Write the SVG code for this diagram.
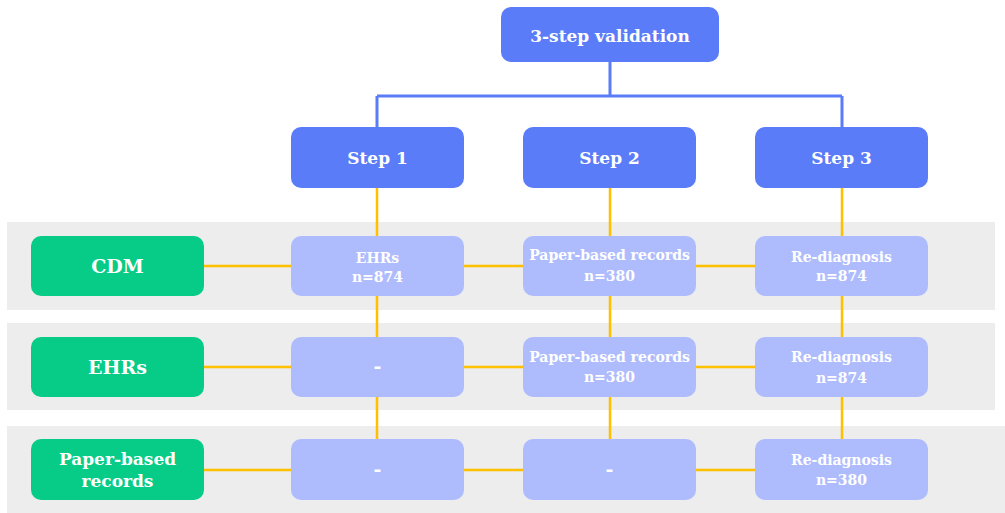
<svg xmlns="http://www.w3.org/2000/svg" width="1005" height="513" viewBox="0 0 1005 513">
<style>
.band{fill:#EDEDED}
.top{fill:#5B7CF8}
.src{fill:#07CC87}
.cell{fill:#AEBCFD}
.t{font-family:"DejaVu Serif","Liberation Serif",serif;font-weight:bold;fill:#fff;text-anchor:middle}
.big{font-size:17px}
.mid{font-size:19px}
.mid2{font-size:17px}
.sm{font-size:14px}
.bl{stroke:#5B7CF8;stroke-width:3;fill:none}
.yl{stroke:#FFC000;stroke-width:2.5;fill:none}
</style>
<rect width="1005" height="513" fill="#fff"/>
<g id="bands">
<rect class="band" x="7" y="222" width="988" height="88"/>
<rect class="band" x="7" y="323" width="988" height="87"/>
<rect class="band" x="7" y="426" width="998" height="87"/>
</g>
<g id="connectors">
<path class="bl" d="M610 62V96M377 96H842M377 96V127M842 96V127"/>
<path class="yl" d="M377 188V439M610 188V439M842 188V439"/>
<path class="yl" d="M204 266H755M204 367H755M204 470H755"/>
</g>
<g id="root"><rect class="top" x="501" y="7" width="218" height="55" rx="10"/><text class="t big" x="610" y="42">3-step validation</text></g>
<g id="step1"><rect class="top" x="291" y="127" width="173" height="61" rx="10"/><text class="t big" x="377.5" y="164">Step 1</text></g>
<g id="step2"><rect class="top" x="523" y="127" width="173" height="61" rx="10"/><text class="t big" x="609.5" y="164">Step 2</text></g>
<g id="step3"><rect class="top" x="755" y="127" width="173" height="61" rx="10"/><text class="t big" x="841.5" y="164">Step 3</text></g>
<g id="cdm"><rect class="src" x="31" y="236" width="173" height="60" rx="10"/><text class="t mid" x="117.5" y="273">CDM</text></g>
<g id="ehrs"><rect class="src" x="31" y="337" width="173" height="60" rx="10"/><text class="t mid" x="117.5" y="374">EHRs</text></g>
<g id="paper"><rect class="src" x="31" y="439" width="173" height="61" rx="10"/><text class="t mid2" x="117.5" y="465">Paper-based</text><text class="t mid2" x="117.5" y="487">records</text></g>
<g id="r1c1"><rect class="cell" x="291" y="236" width="173" height="60" rx="10"/><text class="t sm" x="377.5" y="263">EHRs</text><text class="t sm" x="377.5" y="282">n=874</text></g>
<g id="r1c2"><rect class="cell" x="523" y="236" width="173" height="60" rx="10"/><text class="t sm" x="609.5" y="260">Paper-based records</text><text class="t sm" x="609.5" y="281">n=380</text></g>
<g id="r1c3"><rect class="cell" x="755" y="236" width="173" height="60" rx="10"/><text class="t sm" x="841.5" y="262">Re-diagnosis</text><text class="t sm" x="841.5" y="281">n=874</text></g>
<g id="r2c1"><rect class="cell" x="291" y="337" width="173" height="60" rx="10"/><text class="t mid" x="377.5" y="373">-</text></g>
<g id="r2c2"><rect class="cell" x="523" y="337" width="173" height="60" rx="10"/><text class="t sm" x="609.5" y="362">Paper-based records</text><text class="t sm" x="609.5" y="382">n=380</text></g>
<g id="r2c3"><rect class="cell" x="755" y="337" width="173" height="60" rx="10"/><text class="t sm" x="841.5" y="362">Re-diagnosis</text><text class="t sm" x="841.5" y="383">n=874</text></g>
<g id="r3c1"><rect class="cell" x="291" y="439" width="173" height="61" rx="10"/><text class="t mid" x="377.5" y="476">-</text></g>
<g id="r3c2"><rect class="cell" x="523" y="439" width="173" height="61" rx="10"/><text class="t mid" x="609.5" y="476">-</text></g>
<g id="r3c3"><rect class="cell" x="755" y="439" width="173" height="61" rx="10"/><text class="t sm" x="841.5" y="465">Re-diagnosis</text><text class="t sm" x="841.5" y="485">n=380</text></g>
</svg>
